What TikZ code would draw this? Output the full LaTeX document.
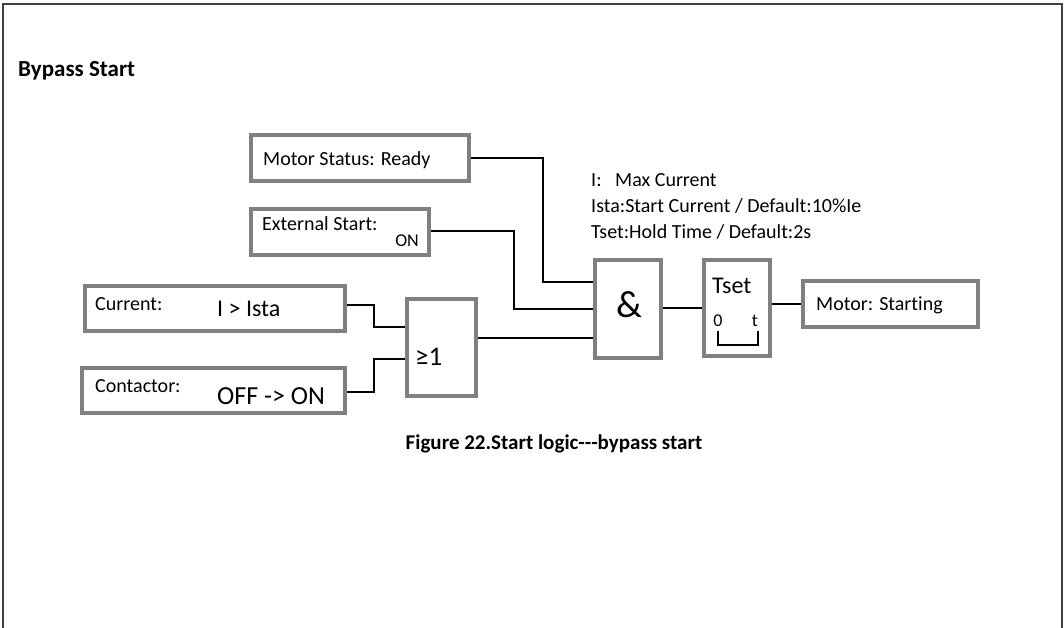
\documentclass[tikz,border=0pt]{standalone}
\usepackage{fontspec}
\setmainfont{Carlito}[Ligatures=NoCommon]
\definecolor{boxgray}{HTML}{808080}
\definecolor{framegray}{HTML}{404040}
\begin{document}
\begin{tikzpicture}[x=1pt,y=-1pt,
  box/.style={draw=boxgray, line width=4pt, fill=white, inner sep=0pt},
  conn/.style={draw=black, line width=2pt},
  txt/.style={inner sep=0pt, anchor=base west},
  fs/.style={font=\fontsize{#1}{#1}\selectfont},
  fsb/.style={font=\fontsize{#1}{#1}\selectfont\bfseries}]
\useasboundingbox (0,0) rectangle (1064,628);
\fill[white] (0,0) rectangle (1064,628);
\draw[framegray, line width=2pt] (3,628) -- (3,4) -- (1062,4) -- (1062,628);

% boxes
\node[box, minimum width=218pt, minimum height=46pt] (ms)  at (360,158) {};
\node[box, minimum width=178pt, minimum height=46pt] (es)  at (340,232) {};
\node[box, minimum width=260pt, minimum height=45pt] (cur) at (215,308.5) {};
\node[box, minimum width=263pt, minimum height=45pt] (con) at (213.5,390.5) {};
\node[box, minimum width=69pt,  minimum height=97pt] (or)  at (441.5,347.5) {};
\node[box, minimum width=66pt,  minimum height=98pt] (and) at (628,309) {};
\node[box, minimum width=66pt,  minimum height=96pt] (ts)  at (737,308) {};
\node[box, minimum width=175pt, minimum height=46pt] (mst) at (890.5,304) {};

% connectors
\draw[conn] (ms.east) -- (543,158) |- (and.west |- 0,282);
\draw[conn] (es.east |- 0,231) -- (514,231) |- (and.west |- 0,309);
\draw[conn] (or.east |- 0,338) -- (and.west |- 0,338);
\draw[conn] (cur.east |- 0,305) -- (374,305) |- (or.west |- 0,327);
\draw[conn] (con.east |- 0,392) -- (374,392) |- (or.west |- 0,359);
\draw[conn] (and.east |- 0,308) -- (ts.west |- 0,308);
\draw[conn] (ts.east |- 0,304) -- (mst.west);

% texts
\node[txt, fsb=23] (title) at (18,77) {Bypass Start};
\node[txt, fs=20] (tms) at (263,166) {Motor Status: Ready};
\node[txt, fs=20] (tes) at (262,230) {External Start:};
\node[txt, fs=18, anchor=base east] (teson) at (419,247) {ON};
\node[txt, fs=20] (tcur) at (95,310) {Current:};
\node[txt, fs=24] (tcurv) at (217,316) {I > Ista};
\node[txt, fs=20] (tcon) at (95,392) {Contactor:};
\node[txt, fs=26] (tconv) at (217,404) {OFF -> ON};
\node[txt, fs=27] (tor) at (415,365) {≥1};
\node[txt, fs=38, anchor=base] (tand) at (629,317) {\&};
\node[txt, fs=24] (tts) at (712,293) {Tset};
\node[txt, fs=18, anchor=base] (t0) at (718,326) {0};
\node[txt, fs=18, anchor=base] (tt) at (755,326) {t};
\draw[line width=2pt] (718,331) -- (718,345) -- (758,345) -- (758,331);
\node[txt, fs=20] (tmst) at (816,310) {Motor: Starting};
\node[txt, fs=20] (n1) at (591,187) {I:\ \ \ Max Current};
\node[txt, fs=20] (n2) at (591,213) {Ista:Start Current / Default:10\%Ie};
\node[txt, fs=20] (n3) at (591,238) {Tset:Hold Time / Default:2s};
\node[txt, fsb=21, anchor=base] (cap) at (554,449) {Figure 22.Start logic-{}-{}-bypass start};
\end{tikzpicture}
\end{document}
